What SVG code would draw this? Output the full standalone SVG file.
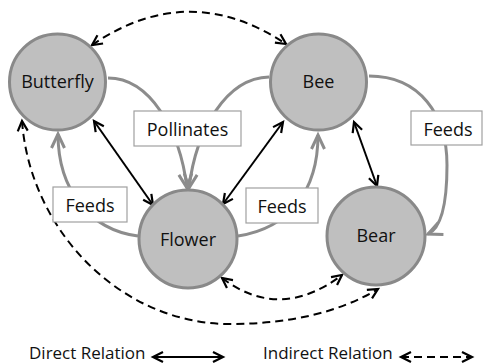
<svg xmlns="http://www.w3.org/2000/svg" width="483" height="364" viewBox="0 0 483 364">
  <style>
    .node { fill: #bfbfbf; stroke: #898989; stroke-width: 3; }
    .label { font-family: "Open Sans", "Liberation Sans", sans-serif; font-size: 18px; fill: #111; text-anchor: middle; }
    .legend { font-family: "Open Sans", "Liberation Sans", sans-serif; font-size: 17px; fill: #111; }
    .tag { fill: #fff; stroke: #a0a0a0; stroke-width: 1.2; }
    .feed { fill: none; stroke: #8c8c8c; stroke-width: 3; marker-end: url(#grayHead); }
    .direct { fill: none; stroke: #000; stroke-width: 2; marker-start: url(#blackHead); marker-end: url(#blackHead); }
    .indirect { fill: none; stroke: #000; stroke-width: 2; stroke-dasharray: 8 5; marker-start: url(#blackHead); marker-end: url(#blackHead); }
  </style>
  <defs>
    <marker id="grayHead" markerUnits="userSpaceOnUse" markerWidth="30" markerHeight="30" viewBox="-20 -15 30 30" refX="0" refY="0" orient="auto">
      <path d="M -14,-6.5 L 0,0 L -14,6.5" fill="none" stroke="#8c8c8c" stroke-width="3" stroke-linejoin="miter"/>
    </marker>
    <marker id="blackHead" markerUnits="userSpaceOnUse" markerWidth="24" markerHeight="24" viewBox="-16 -12 24 24" refX="0" refY="0" orient="auto-start-reverse">
      <path d="M -10,-5 L 0,0 L -10,5" fill="none" stroke="#000" stroke-width="2.2"/>
    </marker>
  </defs>

  <!-- connectors -->
  <g id="connectors">
    <!-- feeding / pollinating relations (gray) -->
    <path class="feed" d="M 108,78 C 150,78 180,130 187,188"/>
    <path class="feed" d="M 269,77 C 226,78 196,130 189,188"/>
    <path class="feed" d="M 138,236 C 90,230 58,190 58,134"/>
    <path class="feed" d="M 238,236 C 290,228 318,190 318,135"/>
    <path class="feed" d="M 369,76 C 420,76 447,115 447,165 C 447,200 442,228 428,234"/>

    <!-- direct relations -->
    <line class="direct" x1="94" y1="121" x2="153" y2="205"/>
    <line class="direct" x1="283" y1="122" x2="223" y2="204"/>
    <line class="direct" x1="354" y1="122" x2="377" y2="186"/>

    <!-- indirect relations -->
    <path class="indirect" d="M 92,45 Q 189,-21 286,44"/>
    <path class="indirect" d="M 22,121 C 30,230 120,324 230,324 C 290,324 340,312 378,289"/>
    <path class="indirect" d="M 222,278 Q 280,322 342,275"/>
  </g>

  <!-- relation tags -->
  <g id="tag-pollinates">
    <rect class="tag" x="134" y="111" width="107" height="35"/>
    <text class="label" x="187.5" y="135.5">Pollinates</text>
  </g>
  <g id="tag-feeds-butterfly">
    <rect class="tag" x="53" y="187" width="74" height="35"/>
    <text class="label" x="90" y="212">Feeds</text>
  </g>
  <g id="tag-feeds-bee">
    <rect class="tag" x="246" y="188" width="72" height="35"/>
    <text class="label" x="282" y="213">Feeds</text>
  </g>
  <g id="tag-feeds-bear">
    <rect class="tag" x="411" y="111" width="71" height="34"/>
    <text class="label" x="448" y="135.5">Feeds</text>
  </g>

  <!-- nodes -->
  <g id="butterfly">
    <circle class="node" cx="57.5" cy="82" r="48"/>
    <text class="label" x="57.5" y="88">Butterfly</text>
  </g>
  <g id="bee">
    <circle class="node" cx="318.5" cy="82" r="48"/>
    <text class="label" x="318.5" y="88">Bee</text>
  </g>
  <g id="flower">
    <circle class="node" cx="188" cy="239" r="49"/>
    <text class="label" x="188" y="246">Flower</text>
  </g>
  <g id="bear">
    <circle class="node" cx="376" cy="236" r="49"/>
    <text class="label" x="376" y="242">Bear</text>
  </g>

  <!-- legend -->
  <g id="legend">
    <text class="legend" x="29" y="359">Direct Relation</text>
    <line class="direct" x1="153" y1="357" x2="223" y2="357" stroke-width="2.5"/>
    <text class="legend" x="263" y="359">Indirect Relation</text>
    <line class="indirect" x1="401" y1="357" x2="472" y2="357" stroke-width="2.5"/>
  </g>
</svg>
